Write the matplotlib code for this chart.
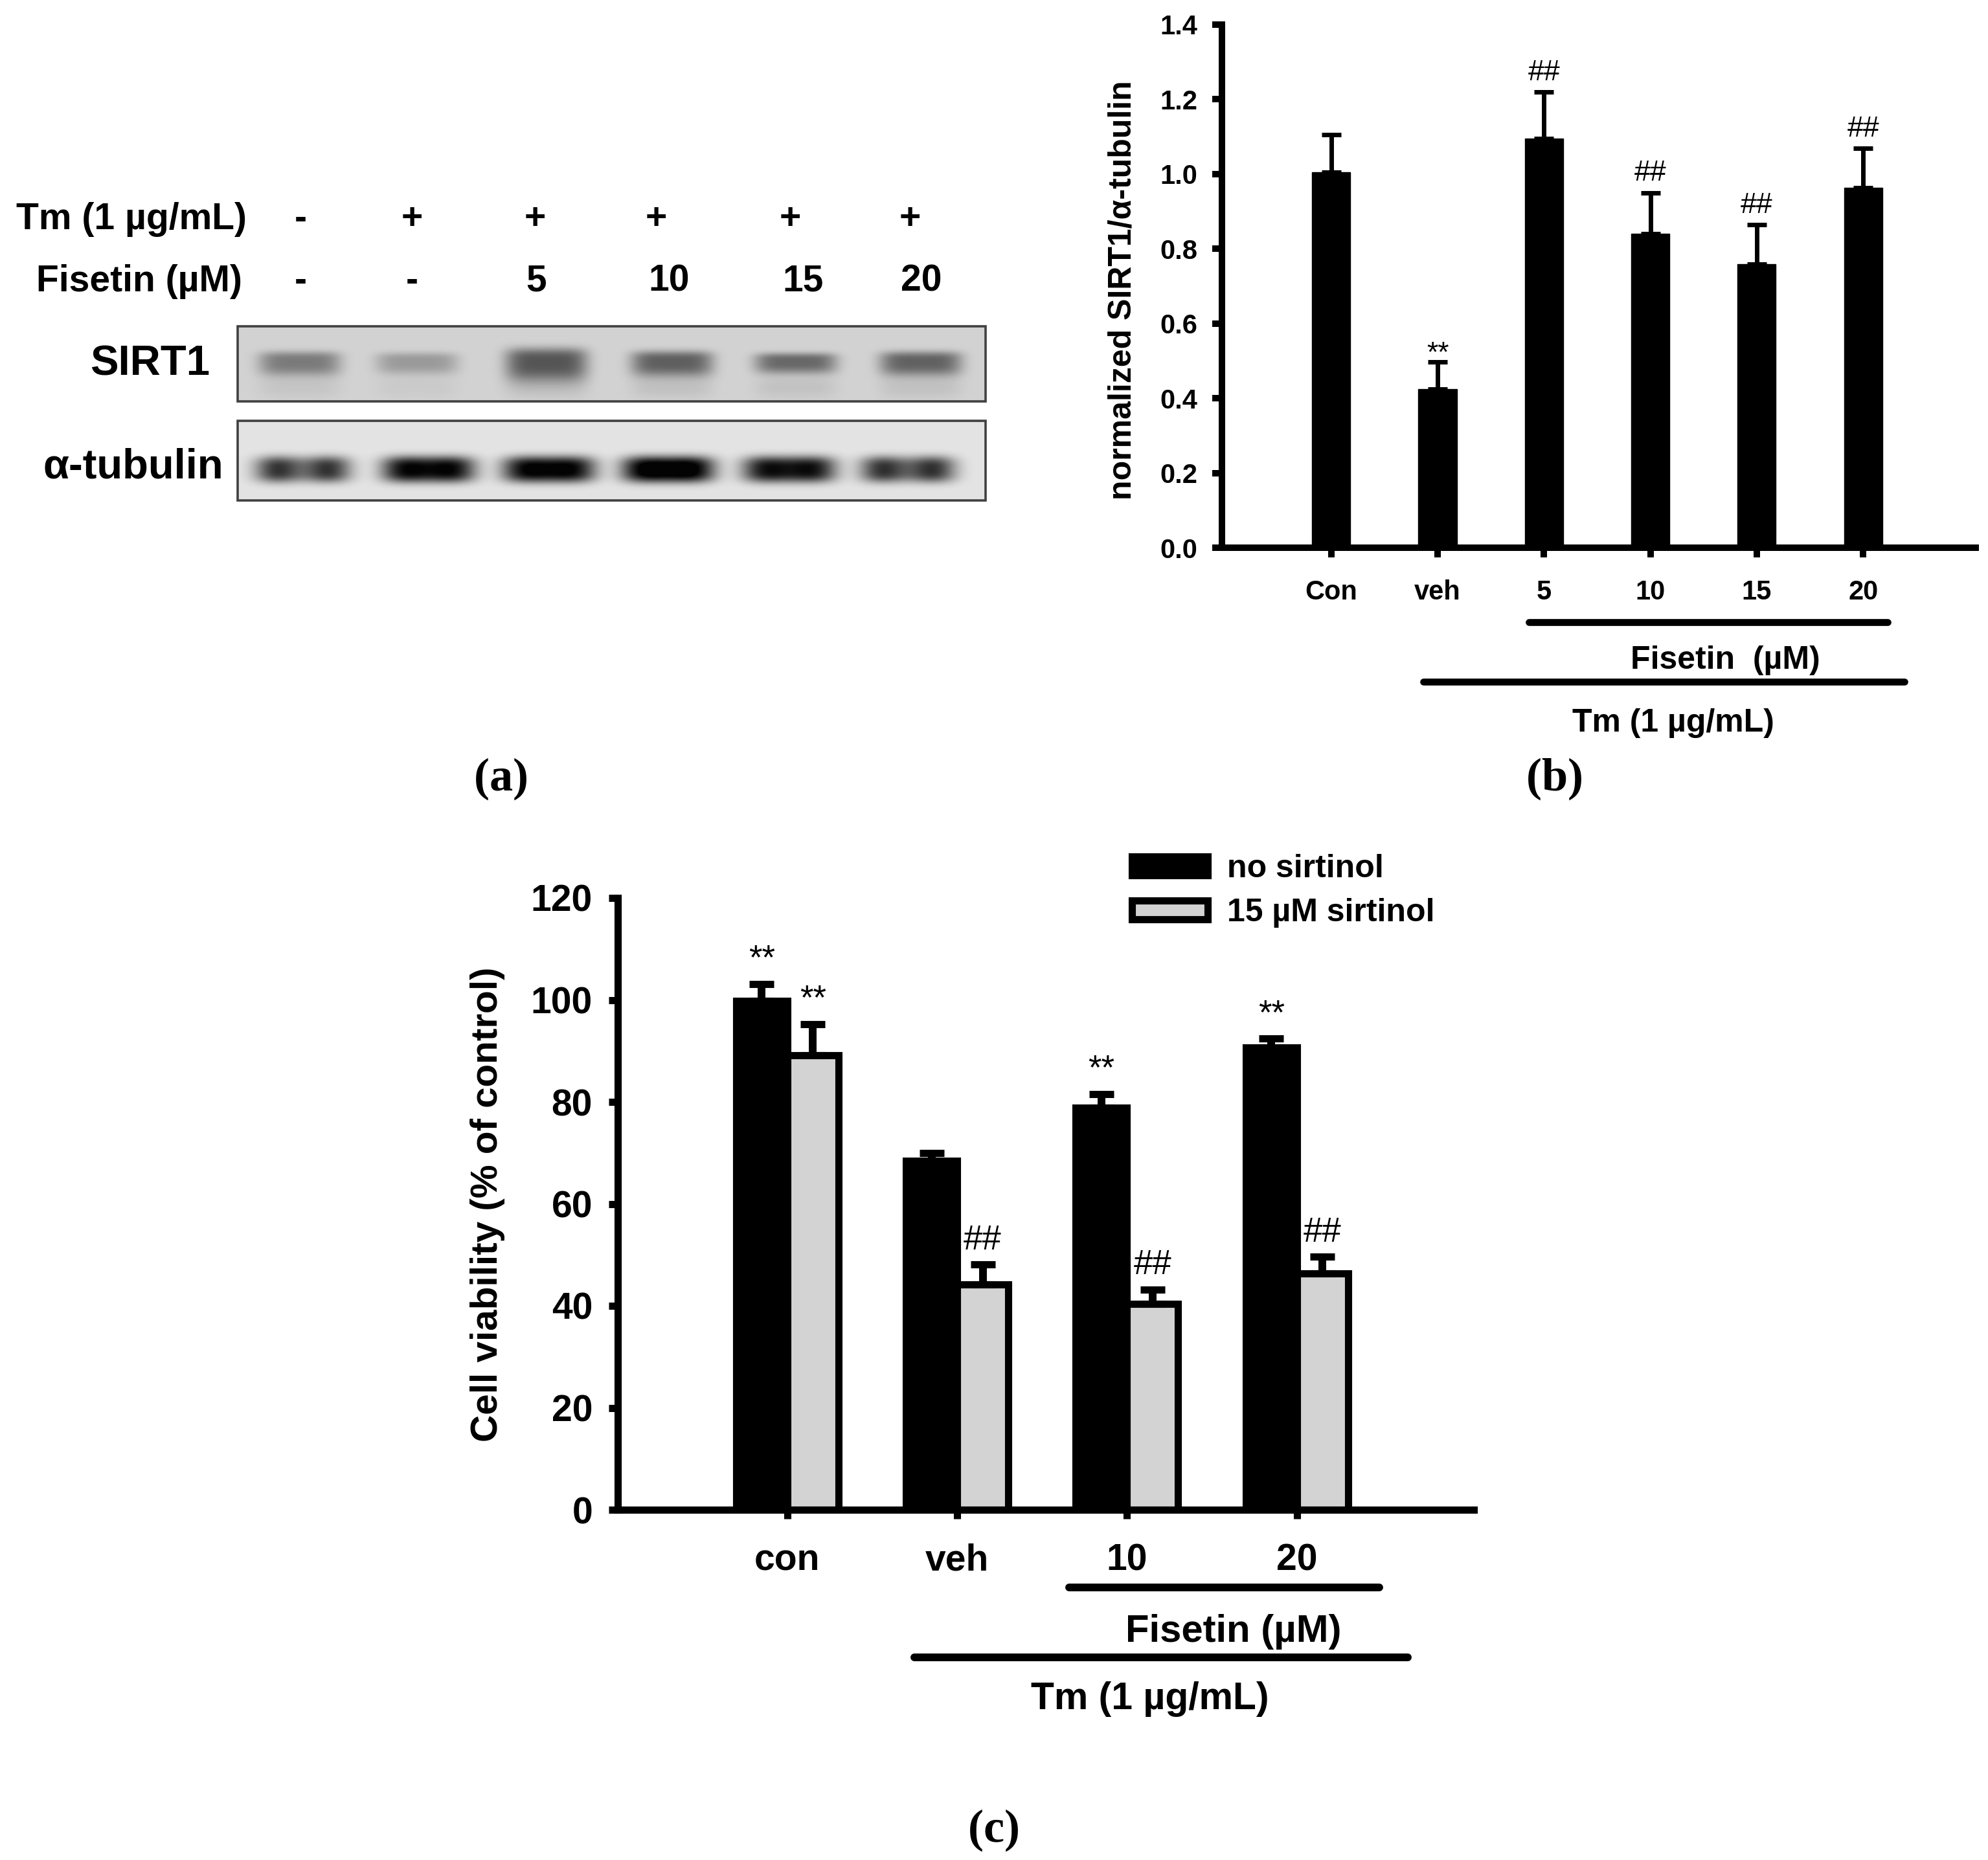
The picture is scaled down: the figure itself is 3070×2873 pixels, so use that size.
import numpy as np
import matplotlib
matplotlib.use('Agg')
import matplotlib.pyplot as plt
from matplotlib.patches import Rectangle

plt.rcParams['font.family'] = ['Liberation Sans', 'DejaVu Sans']
plt.rcParams['font.weight'] = 'bold'
plt.rcParams['axes.labelweight'] = 'bold'
plt.rcParams['mathtext.fontset'] = 'custom'
plt.rcParams['mathtext.rm'] = 'Liberation Serif'
plt.rcParams['mathtext.bf'] = 'Liberation Serif:bold'

# ---------------- data ----------------
blot_tm = ['-', '+', '+', '+', '+', '+']
blot_fisetin = ['-', '-', '5', '10', '15', '20']
sirt1_band_intensity = [0.70, 0.45, 1.0, 0.92, 0.85, 0.90]
sirt1_band_height = [1.0, 0.9, 1.35, 1.05, 0.85, 1.0]
tubulin_band_intensity = [0.95, 1.1, 1.1, 1.2, 1.05, 0.95]
tubulin_band_dip = [0.4, 0.1, 0.05, 0.05, 0.1, 0.35]

b_categories = ['Con', 'veh', '5', '10', '15', '20']
b_mean = [1.005, 0.424, 1.095, 0.840, 0.759, 0.963]
b_sem = [0.100, 0.073, 0.125, 0.110, 0.106, 0.106]
b_marks = ['', '**', '##', '##', '##', '##']
b_yticks = [0.0, 0.2, 0.4, 0.6, 0.8, 1.0, 1.2, 1.4]

c_categories = ['con', 'veh', '10', '20']
c_series = ['no sirtinol', '15 µM sirtinol']
c_no_sirtinol = [99.8, 68.5, 78.8, 90.7]
c_no_sirtinol_sem = [3.3, 1.5, 2.7, 1.7]
c_sirtinol = [89.2, 44.2, 40.4, 46.4]
c_sirtinol_sem = [6.1, 3.9, 2.8, 3.2]
c_marks_no = ['**', '', '**', '**']
c_marks_sir = ['**', '##', '##', '##']
c_yticks = [0, 20, 40, 60, 80, 100, 120]

# ---------------- figure ----------------
W, H = 3070, 2873
DPI = 200
fig = plt.figure(figsize=(W / DPI, H / DPI), dpi=DPI)
fig.patch.set_facecolor('white')

ov = fig.add_axes([0, 0, 1, 1])
ov.set_xlim(0, W)
ov.set_ylim(H, 0)
ov.axis('off')


def rect(x0, x1, ytop, ybot):
    return [x0 / W, 1 - ybot / H, (x1 - x0) / W, (ybot - ytop) / H]


def to_axes(ax_px, px, py):
    x0, x1, yt, yb = ax_px
    return (px - x0) / (x1 - x0), (yb - py) / (yb - yt)


# ---------------- panel (a): blot ----------------
row_fs = 20.5
ov.text(381, 354, 'Tm (1 µg/mL)', ha='right', va='baseline', fontsize=row_fs)
ov.text(374, 450, 'Fisetin (µM)', ha='right', va='baseline', fontsize=row_fs)
tm_x = [464, 636, 826, 1013, 1220, 1405]
fis_x = [464, 636, 828, 1033, 1240, 1423]
for xx, s in zip(tm_x, blot_tm):
    ov.text(xx, 354, s, ha='center', va='baseline', fontsize=row_fs)
for xx, s in zip(fis_x, blot_fisetin):
    ov.text(xx, 450, s, ha='center', va='baseline', fontsize=row_fs)

ov.text(324, 579.5, 'SIRT1', ha='right', va='baseline', fontsize=23.5)
ov.text(345, 738.5, 'α-tubulin', ha='right', va='baseline', fontsize=23.5)

bx0, bx1 = 367, 1522
s_y0, s_y1 = 504, 620
t_y0, t_y1 = 650, 773
sirt_lane_x = [463, 644, 844, 1038, 1229, 1422]
tub_lane_x = [468, 662, 848, 1032, 1219, 1402]

xs = np.arange(bx0, bx1) + 0.5
ys = np.arange(s_y0, s_y1) + 0.5
X, Y = np.meshgrid(xs, ys)
d = np.zeros_like(X)
yc = 558
for cx, a, h in zip(sirt_lane_x, sirt1_band_intensity, sirt1_band_height):
    u = (X - cx) / 63.0
    fx = np.exp(-np.abs(u) ** 5)
    dy = (Y - yc) / (15.0 * h)
    fy = np.where(dy < 0, np.exp(-np.abs(dy) ** 3), np.exp(-(np.abs(dy) / 1.5) ** 3))
    d += a * fx * fy + 0.15 * a * fx * np.exp(-((Y - yc - 40) / 18.0) ** 2)
img_s = 210 - 125 * np.clip(d, 0, 1)
ov.imshow(img_s, cmap='gray', vmin=0, vmax=255, extent=(bx0, bx1, s_y1, s_y0),
          aspect='auto', interpolation='bilinear', zorder=1)
ov.add_patch(Rectangle((bx0, s_y0), bx1 - bx0, s_y1 - s_y0, fill=False,
                       ec='#404040', lw=1.3, zorder=2))

ys = np.arange(t_y0, t_y1) + 0.5
X, Y = np.meshgrid(xs, ys)
d = np.zeros_like(X)
yc = 725
for cx, a, dip in zip(tub_lane_x, tubulin_band_intensity, tubulin_band_dip):
    u = (X - cx) / 70.0
    fx = np.exp(-np.abs(u) ** 4) * (1 - dip * np.exp(-(u / 0.45) ** 2))
    dy = (Y - yc) / 20.0
    fy = np.exp(-np.abs(dy) ** 3)
    d += a * fx * fy
img_t = 228 - 225 * np.clip(d, 0, 1)
ov.imshow(img_t, cmap='gray', vmin=0, vmax=255, extent=(bx0, bx1, t_y1, t_y0),
          aspect='auto', interpolation='bilinear', zorder=1)
ov.add_patch(Rectangle((bx0, t_y0), bx1 - bx0, t_y1 - t_y0, fill=False,
                       ec='#404040', lw=1.3, zorder=2))

# panel labels
ov.text(773, 1221, r'$\mathrm{(}\mathbf{a}\mathrm{)}$', ha='center', va='baseline', fontsize=26)
ov.text(2400, 1221, r'$\mathrm{(}\mathbf{b}\mathrm{)}$', ha='center', va='baseline', fontsize=26)
ov.text(1534, 2845, r'$\mathrm{(}\mathbf{c}\mathrm{)}$', ha='center', va='baseline', fontsize=26)

# ---------------- panel (b) ----------------
b_px = (1887, 3051, 37.7, 846)
axb = fig.add_axes(rect(*b_px))
xb = np.arange(1, len(b_categories) + 1)
axb.bar(xb, b_mean, width=0.36, color='black', edgecolor='black', linewidth=0.5, zorder=2)
axb.errorbar(xb, b_mean, yerr=[np.zeros(len(b_mean)), b_sem], fmt='none',
             ecolor='black', elinewidth=2.5, capsize=5.4, capthick=2.5, zorder=3)
axb.set_xlim(-0.027, 7.058)
axb.set_ylim(0, 1.4)
axb.set_xticks(xb)
axb.set_xticklabels(b_categories)
axb.set_yticks(b_yticks)
axb.set_yticklabels(['%.1f' % v for v in b_yticks])
for sp in ['top', 'right']:
    axb.spines[sp].set_visible(False)
for sp in ['left', 'bottom']:
    axb.spines[sp].set_linewidth(3.6)
axb.tick_params(axis='both', direction='out', length=5.5, width=3.6, labelsize=15)
axb.tick_params(axis='y', pad=8)
axb.tick_params(axis='x', pad=12)
for i, m in enumerate(b_marks):
    if m:
        off = 0.3 if m == '**' else 6.5
        axb.annotate(m, xy=(xb[i], b_mean[i] + b_sem[i]), xytext=(0, off),
                     textcoords='offset points', ha='center', va='baseline',
                     fontsize=16, fontweight='normal', annotation_clip=False)
axb.set_ylabel('normalized SIRT1/α-tubulin', fontsize=18, fontweight='bold')
axb.yaxis.set_label_coords(*to_axes(b_px, 1757, 448))

ov.plot([2361, 2915], [960.7, 960.7], color='black', lw=3.85, solid_capstyle='round')
ov.plot([2198, 2941], [1053, 1053], color='black', lw=3.85, solid_capstyle='round')
ov.text(2664, 1033, 'Fisetin  (µM)', ha='center', va='baseline', fontsize=18)
ov.text(2584, 1130, 'Tm (1 µg/mL)', ha='center', va='baseline', fontsize=18)

# ---------------- panel (c) ----------------
c_px = (954, 2276, 1387, 2332)
axc = fig.add_axes(rect(*c_px))
xc = np.arange(1, len(c_categories) + 1)
bw = 0.301
axc.bar(xc - bw / 2, c_no_sirtinol, width=bw, color='black', edgecolor='black',
        linewidth=4.0, label=c_series[0], zorder=2)
axc.bar(xc + bw / 2, c_sirtinol, width=bw, color='#d3d3d3', edgecolor='black',
        linewidth=4.0, label=c_series[1], zorder=2)
axc.errorbar(xc - bw / 2, c_no_sirtinol, yerr=[np.zeros(4), c_no_sirtinol_sem], fmt='none',
             ecolor='black', elinewidth=4.3, capsize=6.8, capthick=4.0, zorder=3)
axc.errorbar(xc + bw / 2, c_sirtinol, yerr=[np.zeros(4), c_sirtinol_sem], fmt='none',
             ecolor='black', elinewidth=4.3, capsize=6.8, capthick=4.0, zorder=3)
axc.set_xlim(0.0023, 5.042)
axc.set_ylim(0, 120)
axc.set_xticks(xc)
axc.set_xticklabels(c_categories)
axc.set_yticks(c_yticks)
for sp in ['top', 'right']:
    axc.spines[sp].set_visible(False)
for sp in ['left', 'bottom']:
    axc.spines[sp].set_linewidth(4.0)
axc.tick_params(axis='both', direction='out', length=5.0, width=4.0, labelsize=20.5)
axc.tick_params(axis='y', pad=9)
axc.tick_params(axis='x', pad=13.7)
for i in range(4):
    for xx, mean, sem, m in ((xc[i] - bw / 2, c_no_sirtinol[i], c_no_sirtinol_sem[i], c_marks_no[i]),
                             (xc[i] + bw / 2, c_sirtinol[i], c_sirtinol_sem[i], c_marks_sir[i])):
        if m:
            axc.annotate(m, xy=(xx, mean + sem), xytext=(0, 8.5), textcoords='offset points',
                         ha='center', va='baseline', fontsize=19, fontweight='normal',
                         annotation_clip=False)
axc.set_ylabel('Cell viability (% of control)', fontsize=21, fontweight='bold')
axc.yaxis.set_label_coords(*to_axes(c_px, 780, 1860))

leg = axc.legend(loc='center left', bbox_to_anchor=(1747.5 / W, 1 - 1376 / H),
                 bbox_transform=fig.transFigure, frameon=False, fontsize=18,
                 handlelength=2.34, handleheight=0.52, handletextpad=0.61,
                 labelspacing=0.44, borderpad=0, borderaxespad=0)

ov.plot([1651, 2130], [2452, 2452], color='black', lw=4.3, solid_capstyle='round')
ov.plot([1412, 2174], [2560, 2560], color='black', lw=4.3, solid_capstyle='round')
ov.text(1905, 2536, 'Fisetin (µM)', ha='center', va='baseline', fontsize=21.5)
ov.text(1776, 2640, 'Tm (1 µg/mL)', ha='center', va='baseline', fontsize=21.2)

fig.savefig('out.png', dpi=DPI, facecolor='white')
